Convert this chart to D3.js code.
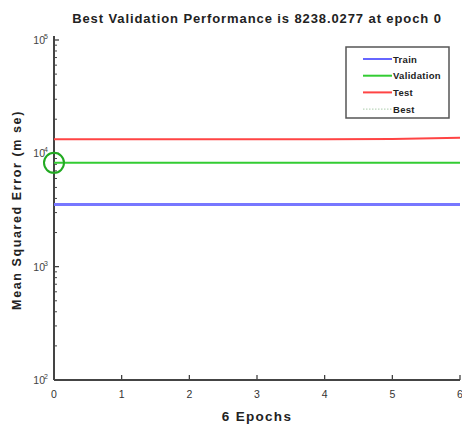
<!DOCTYPE html>
<html><head><meta charset="utf-8">
<script src="https://cdn.jsdelivr.net/npm/d3@7"></script>
<style>body{margin:0;background:#fff}svg{display:block}text{font-family:"Liberation Sans",Arial,sans-serif}</style>
</head><body><svg id="c" width="462" height="428"></svg>
<script>
const epochs = [0,1,2,3,4,5,6];
const trainPerf = [3540,3540,3540,3540,3540,3540,3540];
const valPerf = [8238,8238,8238,8238,8238,8238,8238];
const testPerf = [13300,13300,13300,13300,13320,13400,13750];
const xTicks = [0,1,2,3,4,5,6];
const yTicks = [100,1000,10000,100000];
const bestEpoch = 0, bestVal = 8238.0277;
const legendNames = ["Train","Validation","Test","Best"];
const legendColors = ["#6666ff","#33cc33","#ff4444","#aaccaa"];

const svg = d3.select("#c");
const L=54, R=460, T=40, B=380;
const x = d3.scaleLinear().domain([0,6]).range([L,R]);
const y = d3.scaleLog().domain([100,100000]).range([B,T]);

// minor ticks
const minor=[];
for(let d=100; d<100000; d*=10) for(let k=2;k<10;k++) minor.push(d*k);
svg.append("g").selectAll("line").data(minor).join("line")
  .attr("x1",L).attr("x2",L+3).attr("y1",d=>y(d)).attr("y2",d=>y(d))
  .attr("stroke","#444").attr("stroke-width",1);
svg.append("g").selectAll("line").data(yTicks).join("line")
  .attr("x1",L).attr("x2",L+5).attr("y1",d=>y(d)).attr("y2",d=>y(d))
  .attr("stroke","#333").attr("stroke-width",1.2);
svg.append("g").selectAll("line").data(xTicks).join("line")
  .attr("x1",d=>x(d)).attr("x2",d=>x(d)).attr("y1",B).attr("y2",B-5)
  .attr("stroke","#333").attr("stroke-width",1.2);
// axes lines
svg.append("line").attr("x1",L).attr("x2",L).attr("y1",T-4).attr("y2",B).attr("stroke","#444").attr("stroke-width",2);
svg.append("line").attr("x1",L).attr("x2",R).attr("y1",B).attr("y2",B).attr("stroke","#444").attr("stroke-width",2);

// tick labels
svg.append("g").selectAll("text").data(xTicks).join("text")
  .attr("x",d=>x(d)).attr("y",B+18).attr("text-anchor","middle")
  .attr("font-size",10.5).attr("fill","#333").text(d=>d);
const yl = svg.append("g").selectAll("g").data(yTicks).join("g")
  .attr("transform",d=>`translate(${L-4},${y(d)+4})`);
yl.append("text").attr("text-anchor","end").attr("x",-5).attr("font-size",10.5).attr("fill","#444").text("10");
yl.append("text").attr("text-anchor","start").attr("x",-6).attr("y",-5).attr("font-size",7).attr("fill","#444").text(d=>Math.round(Math.log10(d)));

// lines
const line = d3.line().x((d,i)=>x(epochs[i])).y(d=>y(d));
svg.append("path").datum(trainPerf).attr("d",line).attr("fill","none").attr("stroke","#7777ff").attr("stroke-width",3);
svg.append("path").datum(valPerf).attr("d",line).attr("fill","none").attr("stroke","#33cc33").attr("stroke-width",2);
svg.append("path").datum(testPerf).attr("d",line).attr("fill","none").attr("stroke","#ff4444").attr("stroke-width",2);
svg.append("circle").attr("cx",x(bestEpoch)).attr("cy",y(bestVal)).attr("r",10)
  .attr("fill","none").attr("stroke","#22aa22").attr("stroke-width",2);

// title & labels
svg.append("text").attr("x",257).attr("y",23).attr("text-anchor","middle").attr("font-size",13)
  .attr("font-weight","bold").attr("fill","#222").attr("letter-spacing",0.9)
  .text("Best Validation Performance is 8238.0277 at epoch 0");
svg.append("text").attr("x",257).attr("y",421).attr("text-anchor","middle").attr("font-size",13.5)
  .attr("font-weight","bold").attr("fill","#222").attr("letter-spacing",1.3).text("6 Epochs");
svg.append("text").attr("transform","translate(21,210) rotate(-90)").attr("text-anchor","middle")
  .attr("font-size",12.5).attr("font-weight","bold").attr("fill","#222").attr("letter-spacing",1.6)
  .text("Mean Squared Error  (m se)");

// legend
const lg = svg.append("g");
lg.append("rect").attr("x",346).attr("y",47).attr("width",103).attr("height",71)
  .attr("fill","#fff").attr("stroke","#555").attr("stroke-width",1.5);
const items = lg.selectAll("g").data(legendNames).join("g")
  .attr("transform",(d,i)=>`translate(0,${59+i*16.7})`);
items.append("line").attr("x1",363).attr("x2",392).attr("y1",0).attr("y2",0)
  .attr("stroke",(d,i)=>legendColors[i]).attr("stroke-width",(d,i)=>i==3?1:2)
  .attr("stroke-dasharray",(d,i)=>i==3?"1.5,1.5":null);
items.append("text").attr("x",393).attr("y",3.5).attr("font-size",9.5).attr("font-weight","bold")
  .attr("fill","#222").attr("letter-spacing",0.3).text(d=>d);
</script></body></html>
